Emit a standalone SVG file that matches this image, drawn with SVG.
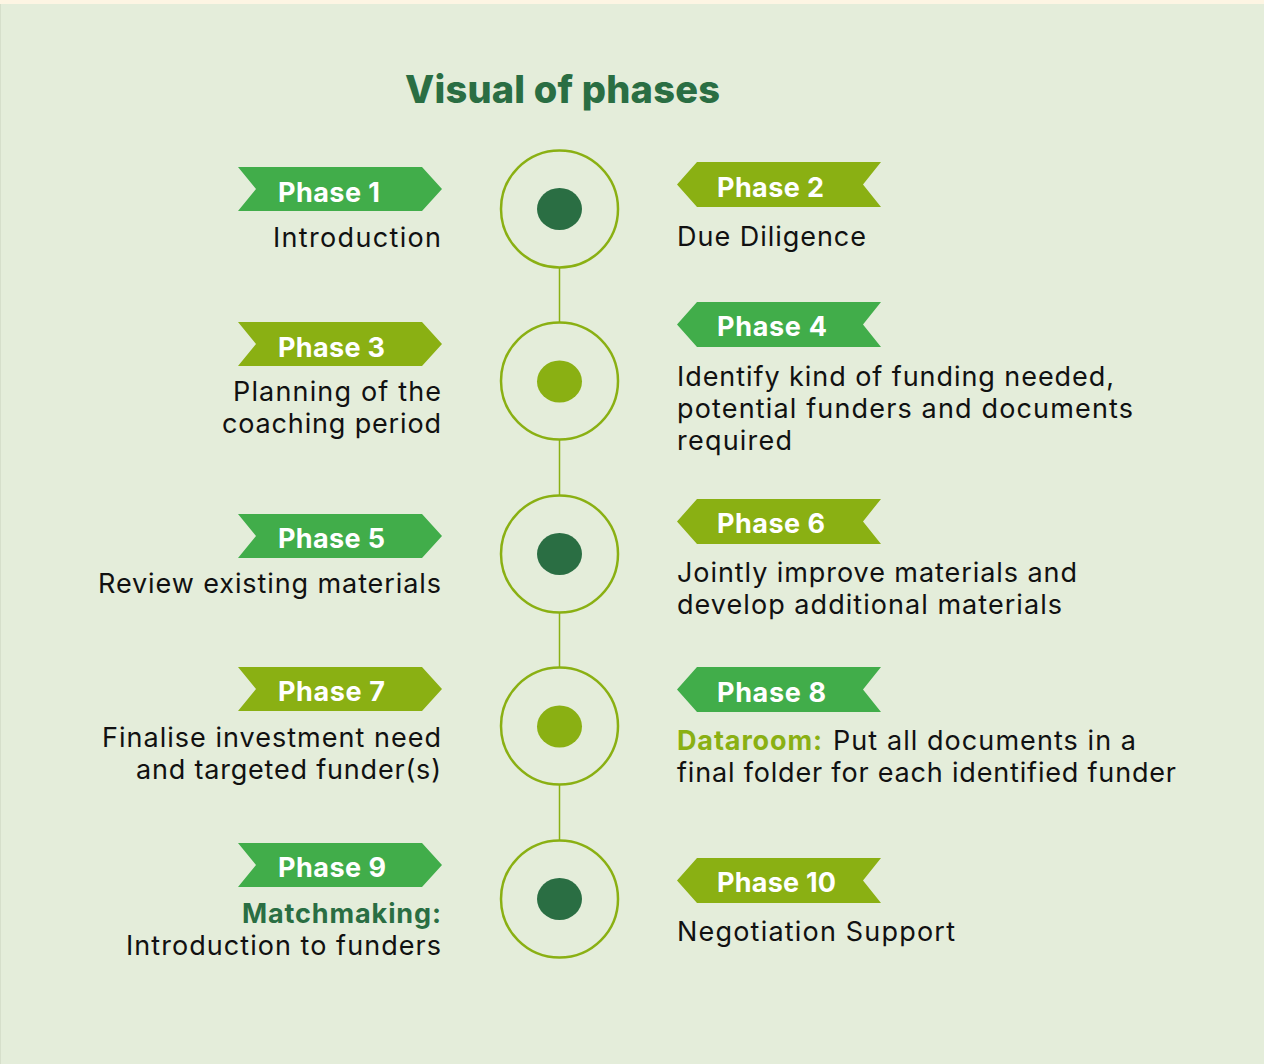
<svg xmlns="http://www.w3.org/2000/svg" width="1264" height="1064" viewBox="0 0 1264 1064">
  <defs>
    <style>
      .title { font-family: Inter, "Open Sans", "Liberation Sans", sans-serif; font-weight: 800; font-size: 38px; fill: #2a6e43; }
      .tag { font-family: Inter, "Open Sans", "Liberation Sans", sans-serif; font-weight: 700; font-size: 27px; fill: #ffffff; }
      .body { font-family: Inter, "Open Sans", "Liberation Sans", sans-serif; font-weight: 400; font-size: 27px; fill: #111111; }
      .left { text-anchor: end; }
      .em-dark { font-family: Inter, "Open Sans", "Liberation Sans", sans-serif; font-weight: 700; font-size: 27px; fill: #2a6e43; }
      .em-olive { font-family: Inter, "Open Sans", "Liberation Sans", sans-serif; font-weight: 700; font-size: 27px; fill: #8ab013; }
      .green { fill: #41ad4a; }
      .olive { fill: #8ab013; }
      .ring { fill: none; stroke: #8ab013; stroke-width: 2.5; }
      .dot-dark { fill: #2a6e43; }
      .dot-olive { fill: #8ab013; }
      .link { stroke: #8ab013; stroke-width: 1.5; fill: none; }
    </style>
    <!-- ribbon pointing right (left column) and pointing left (right column) -->
    <path id="ribbon-r" d="M238,0 L422,0 L442,22 L422,44 L238,44 L256,22 Z"/>
    <path id="ribbon-l" d="M677,22.5 L697,0 L881,0 L863,22.5 L881,45 L697,45 Z"/>
  </defs>

  <!-- page background -->
  <rect x="0" y="0" width="1264" height="1064" fill="#fdf5e3"/>
  <rect x="0" y="4" width="1264" height="1060" fill="#e4edda"/>
  <line x1="0.5" y1="4" x2="0.5" y2="1064" stroke="#d6dfcb" stroke-width="1"/>

  <text class="title" x="405" y="103" textLength="315">Visual of phases</text>

  <!-- vertical spine between the rings -->
  <g id="connectors">
    <line class="link" x1="559.5" y1="268" x2="559.5" y2="322"/>
    <line class="link" x1="559.5" y1="440" x2="559.5" y2="495"/>
    <line class="link" x1="559.5" y1="613" x2="559.5" y2="667"/>
    <line class="link" x1="559.5" y1="785" x2="559.5" y2="840"/>
  </g>

  <!-- rings -->
  <g id="ring1"><circle class="ring" cx="559.5" cy="209" r="58.5"/><ellipse class="dot-dark" cx="559.5" cy="209" rx="22.5" ry="21"/></g>
  <g id="ring2"><circle class="ring" cx="559.5" cy="381" r="58.5"/><ellipse class="dot-olive" cx="559.5" cy="381.5" rx="22.5" ry="21"/></g>
  <g id="ring3"><circle class="ring" cx="559.5" cy="554" r="58.5"/><ellipse class="dot-dark" cx="559.5" cy="554" rx="22.5" ry="21"/></g>
  <g id="ring4"><circle class="ring" cx="559.5" cy="726" r="58.5"/><ellipse class="dot-olive" cx="559.5" cy="726.5" rx="22.5" ry="21"/></g>
  <g id="ring5"><circle class="ring" cx="559.5" cy="899" r="58.5"/><ellipse class="dot-dark" cx="559.5" cy="899" rx="22.5" ry="21"/></g>

  <!-- Phase 1 -->
  <g id="phase1">
    <use href="#ribbon-r" class="green" y="167"/>
    <text class="tag" x="278" y="202" textLength="102">Phase 1</text>
    <text class="body left" x="441" y="247" textLength="168">Introduction</text>
  </g>

  <!-- Phase 2 -->
  <g id="phase2">
    <use href="#ribbon-l" class="olive" y="162"/>
    <text class="tag" x="717" y="197" textLength="107">Phase 2</text>
    <text class="body" x="677" y="246" textLength="189">Due Diligence</text>
  </g>

  <!-- Phase 3 -->
  <g id="phase3">
    <use href="#ribbon-r" class="olive" y="322"/>
    <text class="tag" x="278" y="357" textLength="107">Phase 3</text>
    <text class="body left" x="441" y="401" textLength="208">Planning of the</text>
    <text class="body left" x="441" y="433" textLength="219">coaching period</text>
  </g>

  <!-- Phase 4 -->
  <g id="phase4">
    <use href="#ribbon-l" class="green" y="302"/>
    <text class="tag" x="717" y="336" textLength="110">Phase 4</text>
    <text class="body" x="677" y="386" textLength="437">Identify kind of funding needed,</text>
    <text class="body" x="677" y="418" textLength="456">potential funders and documents</text>
    <text class="body" x="677" y="450" textLength="115">required</text>
  </g>

  <!-- Phase 5 -->
  <g id="phase5">
    <use href="#ribbon-r" class="green" y="514"/>
    <text class="tag" x="278" y="548" textLength="107">Phase 5</text>
    <text class="body left" x="441" y="593" textLength="343">Review existing materials</text>
  </g>

  <!-- Phase 6 -->
  <g id="phase6">
    <use href="#ribbon-l" class="olive" y="499"/>
    <text class="tag" x="717" y="533" textLength="108">Phase 6</text>
    <text class="body" x="677" y="582" textLength="400">Jointly improve materials and</text>
    <text class="body" x="677" y="614" textLength="385">develop additional materials</text>
  </g>

  <!-- Phase 7 -->
  <g id="phase7">
    <use href="#ribbon-r" class="olive" y="667"/>
    <text class="tag" x="278" y="701" textLength="107">Phase 7</text>
    <text class="body left" x="441" y="747" textLength="339">Finalise investment need</text>
    <text class="body left" x="441" y="779" textLength="305">and targeted funder(s)</text>
  </g>

  <!-- Phase 8 -->
  <g id="phase8">
    <use href="#ribbon-l" class="green" y="667"/>
    <text class="tag" x="717" y="702" textLength="109">Phase 8</text>
    <text class="em-olive" x="677" y="750" textLength="145">Dataroom:</text>
    <text class="body" x="833" y="750" textLength="303">Put all documents in a</text>
    <text class="body" x="677" y="782" textLength="499">final folder for each identified funder</text>
  </g>

  <!-- Phase 9 -->
  <g id="phase9">
    <use href="#ribbon-r" class="green" y="843"/>
    <text class="tag" x="278" y="877" textLength="108">Phase 9</text>
    <text class="em-dark left" x="441" y="923" textLength="199">Matchmaking:</text>
    <text class="body left" x="441" y="955" textLength="315">Introduction to funders</text>
  </g>

  <!-- Phase 10 -->
  <g id="phase10">
    <use href="#ribbon-l" class="olive" y="858"/>
    <text class="tag" x="717" y="892" textLength="119">Phase 10</text>
    <text class="body" x="677" y="941" textLength="278">Negotiation Support</text>
  </g>
</svg>
